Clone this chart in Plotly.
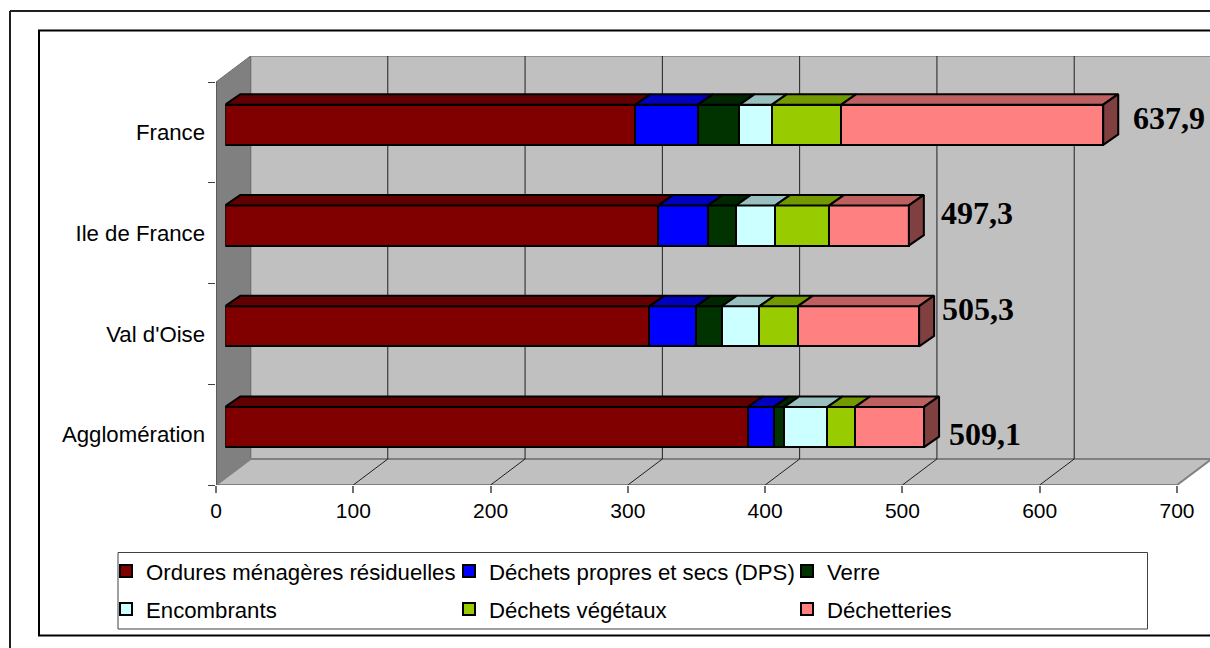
import plotly.graph_objects as go

# ---- data -------------------------------------------------------------
categories = ["Agglomération", "Val d'Oise", "Ile de France", "France"]
ordures = [380.7, 309.1, 315.4, 298.8]
dps = [18.9, 33.9, 36.2, 45.5]
verre = [7.5, 18.7, 20.4, 30.4]
encombrants = [31.6, 27.5, 28.6, 23.5]
vegetaux = [20.1, 27.9, 39.3, 50.5]
dechetteries = [50.2, 88.3, 58.0, 190.8]
total_labels = ["509,1", "505,3", "497,3", "637,9"]
series_names = ["Ordures ménagères résiduelles", "Déchets propres et secs (DPS)", "Verre",
                "Encombrants", "Déchets végétaux", "Déchetteries"]
x_ticks = [0, 100, 200, 300, 400, 500, 600, 700]

# ---- style ------------------------------------------------------------
W, H = 1210, 648
series = [ordures, dps, verre, encombrants, vegetaux, dechetteries]
front_colors = ["#800000", "#0000FF", "#003300", "#CCFFFF", "#99CC00", "#FF8080"]
top_colors = ["#600000", "#0000BF", "#002600", "#99BFBF", "#739900", "#BF6060"]
side_color = "#804040"
PX_PER_X = 961 / 700
PX_PER_CAT = 100.75
WALL_DX = 34.5 / PX_PER_X
WALL_DY = 26 / PX_PER_CAT
BAR_DX = 15 / PX_PER_X
BAR_DY = 10.5 / PX_PER_CAT
BAR_W = 0.40
FONT = "Liberation Sans"
CAT_SIZE = 22.2
TICK_SIZE = 21
EDGE = 2
AX_X0, AX_YB, AX_YT = 216, 485, 56
BAR_X0, BAR_YB = 225.3, 477.4
# label placement relative to the end of each bar (pixels)
label_dx = [23, 21, 30, 27.5]
label_dy = [7, -17, -13, -7]
legend_left = [106, 449, 787]
legend_rows = [571, 609]


def px(v):
    return v / W


def py(v):
    return 1 - v / H


fig = go.Figure()

# ---- 3D walls on the main axes ------------------------------------------
xmax, ymin, ymax = x_ticks[-1], -0.5, len(categories) - 0.5
wall = dict(mode="lines", fill="toself", hoverinfo="skip", showlegend=False)
fig.add_trace(go.Scatter(
    x=[WALL_DX, xmax + WALL_DX, xmax + WALL_DX, WALL_DX, WALL_DX],
    y=[ymin + WALL_DY, ymin + WALL_DY, ymax + WALL_DY, ymax + WALL_DY, ymin + WALL_DY],
    fillcolor="#C0C0C0", line=dict(color="#909090", width=2), **wall))
fig.add_trace(go.Scatter(
    x=[0, WALL_DX, WALL_DX, 0, 0],
    y=[ymin, ymin + WALL_DY, ymax + WALL_DY, ymax, ymin],
    fillcolor="#808080", line=dict(color="#707070", width=1), **wall))
fig.add_trace(go.Scatter(
    x=[0, xmax, xmax + WALL_DX, WALL_DX, 0],
    y=[ymin, ymin, ymin + WALL_DY, ymin + WALL_DY, ymin],
    fillcolor="#C0C0C0", line=dict(color="#808080", width=2), **wall))

# grid lines on back wall and floor
gx, gy = [], []
for t in x_ticks[1:-1]:
    gx += [t, t + WALL_DX, t + WALL_DX, None]
    gy += [ymin, ymin + WALL_DY, ymax + WALL_DY, None]
fig.add_trace(go.Scatter(x=gx, y=gy, mode="lines", line=dict(color="#202020", width=1),
                         hoverinfo="skip", showlegend=False))
# axis line
fig.add_trace(go.Scatter(x=[0, 0], y=[ymin, ymax], mode="lines", line=dict(color="#505050", width=1.5),
                         hoverinfo="skip", showlegend=False))

# ---- bars on a second, offset pair of axes --------------------------------
y_pos = list(range(len(categories)))
legend_ids = ["legend", "legend2", "legend3", "legend4", "legend5", "legend6"]
for i, (name, values) in enumerate(zip(series_names, series)):
    fig.add_trace(go.Bar(
        x=values, y=y_pos, name=name, orientation="h", width=BAR_W, xaxis="x2", yaxis="y2",
        marker=dict(color=front_colors[i], line=dict(color="#000000", width=EDGE)),
        legend=legend_ids[i], hovertemplate="%{x}<extra>" + name + "</extra>"))

cum = [0.0] * len(categories)
for i, values in enumerate(series):
    tx, ty = [], []
    for j, v in enumerate(values):
        a, b = cum[j], cum[j] + v
        top = y_pos[j] + BAR_W / 2
        tx += [a, b, b + BAR_DX, a + BAR_DX, a, None]
        ty += [top, top, top + BAR_DY, top + BAR_DY, top, None]
        cum[j] = b
    fig.add_trace(go.Scatter(x=tx, y=ty, xaxis="x2", yaxis="y2", mode="lines", fill="toself",
                             fillcolor=top_colors[i], line=dict(color="#000000", width=EDGE),
                             hoverinfo="skip", showlegend=False))

sx, sy = [], []
for j, c in enumerate(cum):
    lo, hi = y_pos[j] - BAR_W / 2, y_pos[j] + BAR_W / 2
    sx += [c, c + BAR_DX, c + BAR_DX, c, c, None]
    sy += [lo, lo + BAR_DY, hi + BAR_DY, hi, lo, None]
fig.add_trace(go.Scatter(x=sx, y=sy, xaxis="x2", yaxis="y2", mode="lines", fill="toself",
                         fillcolor=side_color, line=dict(color="#000000", width=EDGE),
                         hoverinfo="skip", showlegend=False))

annotations = [
    dict(x=cum[j], y=y_pos[j], xref="x2", yref="y2", text="<b>" + total_labels[j] + "</b>",
         showarrow=False, xanchor="left", yanchor="middle", xshift=label_dx[j], yshift=-label_dy[j],
         font=dict(family="Liberation Serif", size=32, color="#000000"))
    for j in range(len(categories))
]

shapes = [
    dict(type="line", xref="paper", yref="paper", x0=px(10), x1=px(10), y0=py(11), y1=py(648),
         line=dict(color="#202020", width=2), layer="below"),
    dict(type="line", xref="paper", yref="paper", x0=px(10), x1=1, y0=py(11), y1=py(11),
         line=dict(color="#202020", width=2), layer="below"),
    dict(type="rect", xref="paper", yref="paper", x0=px(39), x1=px(1240), y0=py(30.5), y1=py(635.5),
         line=dict(color="#000000", width=2), layer="below"),
    dict(type="rect", xref="paper", yref="paper", x0=px(118), x1=px(1147.5), y0=py(552.5), y1=py(629),
         line=dict(color="#404040", width=1), fillcolor="#FFFFFF", layer="above"),
]

layout_legends = {}
positions = [(0, 0), (1, 0), (2, 0), (0, 1), (1, 1), (2, 1)]
for lid, (c, r) in zip(legend_ids, positions):
    layout_legends[lid] = dict(
        x=px(legend_left[c]), y=py(legend_rows[r]), xanchor="left", yanchor="middle",
        bgcolor="rgba(0,0,0,0)", borderwidth=0, font=dict(family=FONT, size=CAT_SIZE, color="#000000"))

fig.update_layout(
    width=W, height=H, margin=dict(l=0, r=0, t=0, b=0, autoexpand=False), autosize=False,
    paper_bgcolor="#FFFFFF", plot_bgcolor="rgba(0,0,0,0)", barmode="stack", bargap=0,
    font=dict(family=FONT, size=TICK_SIZE, color="#000000"),
    showlegend=True, shapes=shapes, annotations=annotations,
    xaxis=dict(domain=[px(AX_X0), 1], range=[0, (W - AX_X0) / PX_PER_X], anchor="y",
               tickvals=x_ticks, ticks="outside", ticklen=7, tickcolor="#707070", tickwidth=1.5,
               showgrid=False, zeroline=False, showline=False, tickfont=dict(size=TICK_SIZE), tickangle=0),
    yaxis=dict(domain=[py(AX_YB), py(AX_YT)],
               range=[ymin, ymin + (AX_YB - AX_YT) / PX_PER_CAT], anchor="x",
               tickvals=y_pos, ticktext=categories, ticks="", showgrid=False, zeroline=False, showline=False,
               minor=dict(tickvals=[p - 0.5 for p in y_pos] + [ymax], ticks="outside", ticklen=7,
                          tickcolor="#404040", tickwidth=1, showgrid=False),
               ticklabelstandoff=10, tickfont=dict(size=CAT_SIZE)),
    xaxis2=dict(domain=[px(BAR_X0), 1], range=[0, (W - BAR_X0) / PX_PER_X], anchor="y2", visible=False),
    yaxis2=dict(domain=[py(BAR_YB), py(AX_YT)],
                range=[ymin, ymin + (BAR_YB - AX_YT) / PX_PER_CAT], anchor="x2", visible=False),
    **layout_legends,
)

fig.write_html("out.html", config={"displayModeBar": False},
               post_script="document.body.style.margin='0';")
